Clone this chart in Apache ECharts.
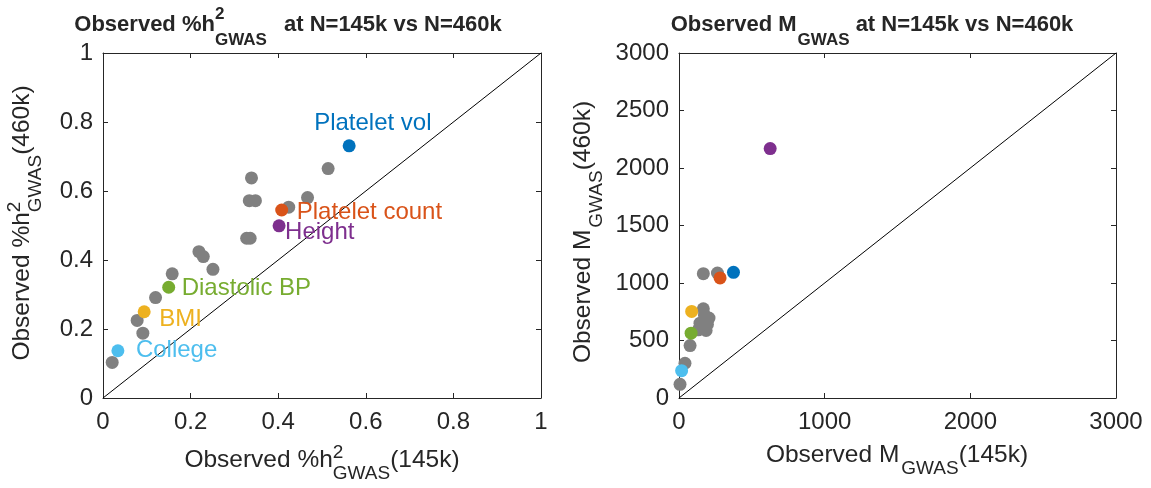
<!DOCTYPE html>
<html>
<head>
<meta charset="utf-8">
<script src="https://cdn.jsdelivr.net/npm/echarts@6/dist/echarts.min.js"></script>
<style>
  html, body { margin: 0; padding: 0; background: #ffffff; }
  #chart { width: 1151px; height: 488px; }
</style>
</head>
<body>
<div id="chart"></div>
<script>
// Highlighted traits
const traitNames = ['Platelet vol', 'Platelet count', 'Height', 'Diastolic BP', 'BMI', 'College'];

// Observed %h2_GWAS, N=145k (x) against N=460k (y)
const h2Trait145k = [0.562, 0.408, 0.402, 0.150, 0.094, 0.034];
const h2Trait460k = [0.731, 0.545, 0.499, 0.321, 0.250, 0.137];
const h2Other145k = [0.514, 0.339, 0.334, 0.348, 0.467, 0.424, 0.328, 0.336, 0.219, 0.229, 0.251, 0.158, 0.120, 0.078, 0.091, 0.021];
const h2Other460k = [0.665, 0.638, 0.572, 0.572, 0.581, 0.553, 0.463, 0.463, 0.424, 0.410, 0.373, 0.360, 0.291, 0.225, 0.188, 0.103];

// Observed M_GWAS, N=145k (x) against N=460k (y)
const mTrait145k = [374, 282, 626, 83, 87, 18];
const mTrait460k = [1093, 1044, 2169, 564, 753, 238];
const mOther145k = [167, 264, 167, 206, 144, 186, 133, 175, 195, 76, 41, 7];
const mOther460k = [1081, 1087, 776, 695, 651, 587, 593, 720, 640, 456, 302, 119];

// y = x reference lines
const identityH2 = [0, 1];
const identityM = [0, 3000];

// Axis ranges and tick steps
const h2Axis = { min: 0, max: 1, interval: 0.2 };
const mAxisX = { min: 0, max: 3000, interval: 1000 };
const mAxisY = { min: 0, max: 3000, interval: 500 };

// ---- styling ----
const FONT = '"Liberation Sans", Arial, Helvetica, sans-serif';
const INK = '#262626';
const GRAY = '#808080';
const traitColors = {
  'Platelet vol': '#0072BD',
  'Platelet count': '#D95319',
  'Height': '#7E2F8E',
  'Diastolic BP': '#77AC30',
  'BMI': '#EDB120',
  'College': '#4DBEEE'
};
// text left edge / vertical centre relative to the point centre
const labelOffsets = {
  'Platelet vol': [-35, -22],
  'Platelet count': [15, 2],
  'Height': [6, 7],
  'Diastolic BP': [13, 1],
  'BMI': [15, 8],
  'College': [18, 0]
};
const DOT = 13;

const grids = [
  { left: 103, top: 53, width: 438, height: 345 },
  { left: 679, top: 53, width: 437, height: 345 }
];

function boxAxis(gridIndex, range, position, showLabel) {
  return {
    type: 'value', gridIndex, position,
    min: range.min, max: range.max, interval: range.interval,
    axisLine: { show: true, onZero: false, lineStyle: { color: INK, width: 1 } },
    axisTick: { show: true, inside: true, length: 5, lineStyle: { color: INK, width: 1 } },
    axisLabel: { show: showLabel, fontSize: 24, color: INK, fontFamily: FONT,
                 margin: (position === 'bottom') ? 12 : 10,
                 formatter: v => String(v) },
    splitLine: { show: false }
  };
}

function pairs(xs, ys) { return xs.map((x, i) => [x, ys[i]]); }

function traitData(xs, ys, withLabels) {
  return traitNames.map((name, i) => {
    const item = {
      name, value: [xs[i], ys[i]],
      itemStyle: { color: traitColors[name], opacity: 1 }
    };
    if (withLabels) {
      const off = labelOffsets[name];
      item.label = {
        show: true, formatter: name, position: 'right', distance: 0,
        offset: [off[0] - DOT / 2, off[1]],
        color: traitColors[name], fontSize: 24, fontFamily: FONT
      };
    }
    return item;
  });
}

// ---- text with super/subscripts, built from measured pieces ----
const measureCtx = document.createElement('canvas').getContext('2d');
function textWidth(t, font) { measureCtx.font = font; return measureCtx.measureText(t).width; }

function scriptedText(parts, cfg) {
  const mainFont = cfg.weight + ' ' + cfg.size + 'px ' + FONT;
  const scriptFont = cfg.weight + ' ' + cfg.scriptSize + 'px ' + FONT;
  const pieces = [];
  let x = 0;
  parts.forEach(p => {
    if (p.text !== undefined) {
      pieces.push({ text: p.text, x, base: 0, font: mainFont, size: cfg.size });
      x += textWidth(p.text, mainFont);
    } else {
      x += p.gapBefore || 0;
      let w = 0;
      if (p.sup) {
        pieces.push({ text: p.sup, x, base: cfg.supShift, font: scriptFont, size: cfg.scriptSize });
        w = Math.max(w, textWidth(p.sup, scriptFont));
      }
      if (p.sub) {
        pieces.push({ text: p.sub, x, base: cfg.subShift, font: scriptFont, size: cfg.scriptSize });
        w = Math.max(w, textWidth(p.sub, scriptFont));
      }
      x += w + (p.gapAfter || 0);
    }
  });
  const start = -x / 2;
  return {
    type: 'group', x: cfg.cx, y: cfg.cy, rotation: cfg.rotation || 0, silent: true,
    children: pieces.map(pc => ({
      type: 'text', x: start + pc.x, y: pc.base - 0.3465 * pc.size,
      style: { text: pc.text, font: pc.font, fill: INK,
               textAlign: 'left', textVerticalAlign: 'middle', verticalAlign: 'middle' }
    }))
  };
}

const titleCfg = { weight: 'bold', size: 22, scriptSize: 17, supShift: -13, subShift: 13 };
const nameCfg = { weight: 'normal', size: 24.5, scriptSize: 19, supShift: -10, subShift: 11 };

const graphics = [
  scriptedText([{ text: 'Observed %h' }, { sup: '2', sub: 'GWAS', gapAfter: 11 }, { text: ' at N=145k vs N=460k' }],
               Object.assign({ cx: 288, cy: 33 }, titleCfg)),
  scriptedText([{ text: 'Observed M' }, { sub: 'GWAS', gapBefore: 1 }, { text: ' at N=145k vs N=460k' }],
               Object.assign({ cx: 872, cy: 33 }, titleCfg)),
  scriptedText([{ text: 'Observed %h' }, { sup: '2', sub: 'GWAS' }, { text: '(145k)' }],
               Object.assign({ cx: 322, cy: 469 }, nameCfg)),
  scriptedText([{ text: 'Observed M' }, { sub: 'GWAS', gapBefore: 2 }, { text: '(145k)' }],
               Object.assign({ cx: 897, cy: 464 }, nameCfg)),
  scriptedText([{ text: 'Observed %h' }, { sup: '2', sub: 'GWAS' }, { text: '(460k)' }],
               Object.assign({ cx: 31, cy: 223, rotation: Math.PI / 2 }, nameCfg)),
  scriptedText([{ text: 'Observed M' }, { sub: 'GWAS', gapBefore: 2 }, { text: '(460k)' }],
               Object.assign({ cx: 592, cy: 232, rotation: Math.PI / 2 }, nameCfg))
];

const chart = echarts.init(document.getElementById('chart'), null, { renderer: 'canvas' });
chart.setOption({
  animation: false,
  backgroundColor: '#ffffff',
  textStyle: { fontFamily: FONT },
  grid: grids,
  xAxis: [
    boxAxis(0, h2Axis, 'bottom', true),
    boxAxis(0, h2Axis, 'top', false),
    boxAxis(1, mAxisX, 'bottom', true),
    boxAxis(1, mAxisX, 'top', false)
  ],
  yAxis: [
    boxAxis(0, h2Axis, 'left', true),
    boxAxis(0, h2Axis, 'right', false),
    boxAxis(1, mAxisY, 'left', true),
    boxAxis(1, mAxisY, 'right', false)
  ],
  series: [
    { type: 'line', xAxisIndex: 0, yAxisIndex: 0, data: pairs(identityH2, identityH2),
      symbol: 'none', silent: true, z: 1, lineStyle: { color: '#000000', width: 1 } },
    { type: 'scatter', xAxisIndex: 0, yAxisIndex: 0, data: pairs(h2Other145k, h2Other460k),
      symbolSize: DOT, itemStyle: { color: GRAY, opacity: 1 }, z: 2, silent: true },
    { type: 'scatter', xAxisIndex: 0, yAxisIndex: 0, data: traitData(h2Trait145k, h2Trait460k, true),
      symbolSize: DOT, z: 3, silent: true },
    { type: 'line', xAxisIndex: 2, yAxisIndex: 2, data: pairs(identityM, identityM),
      symbol: 'none', silent: true, z: 1, lineStyle: { color: '#000000', width: 1 } },
    { type: 'scatter', xAxisIndex: 2, yAxisIndex: 2, data: pairs(mOther145k, mOther460k),
      symbolSize: DOT, itemStyle: { color: GRAY, opacity: 1 }, z: 2, silent: true },
    { type: 'scatter', xAxisIndex: 2, yAxisIndex: 2, data: traitData(mTrait145k, mTrait460k, false),
      symbolSize: DOT, z: 3, silent: true }
  ],
  graphic: graphics
});
</script>
</body>
</html>
